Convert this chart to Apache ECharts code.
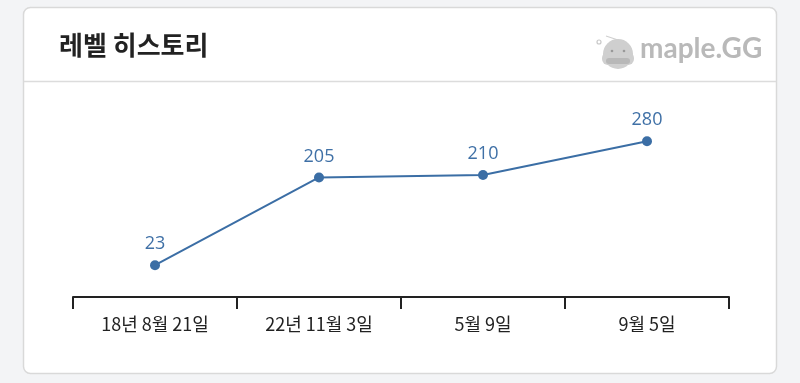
<!DOCTYPE html>
<html><head><meta charset="utf-8">
<script src="https://cdn.jsdelivr.net/npm/echarts@6/dist/echarts.min.js"></script>
<style>html,body{margin:0;padding:0;background:#f3f4f6;}#c{width:800px;height:383px;}</style>
</head><body><div id="c"></div>
<script>
var categories = ['18년 8월 21일', '22년 11월 3일', '5월 9일', '9월 5일'];
var levels = [23, 205, 210, 280];
var titleText = '레벨 히스토리';
var logoText = 'maple.GG';

var chart = echarts.init(document.getElementById('c'));
var FONT = '"Noto Sans CJK KR", "Noto Sans", sans-serif';
chart.setOption({
  backgroundColor: '#f3f4f6',
  animation: false,
  title: {
    text: titleText, left: 54, top: 27,
    textStyle: { fontFamily: FONT, fontSize: 26, fontWeight: 'bold', color: '#222' }
  },
  graphic: [
    { type: 'rect', z: -10, shape: { x: 23.5, y: 7.5, width: 753, height: 366, r: 7 },
      style: { fill: '#fff', stroke: '#d9d9d9', lineWidth: 1.5 } },
    { type: 'line', z: -9, shape: { x1: 24, y1: 81.5, x2: 776, y2: 81.5 },
      style: { stroke: '#dcdcdc', lineWidth: 1.5 } },
    { type: 'circle', z: 1, shape: { cx: 618, cy: 54, r: 15 }, style: { fill: '#cfcfcf' } },
    { type: 'rect', z: 1, shape: { x: 602, y: 52, width: 32, height: 13, r: 6 }, style: { fill: '#cfcfcf' } },
    { type: 'rect', z: 2, shape: { x: 606, y: 58, width: 24, height: 6, r: 3 }, style: { fill: '#b8b8b8' } },
    { type: 'circle', z: 2, shape: { cx: 612, cy: 51, r: 1.3 }, style: { fill: '#999' } },
    { type: 'circle', z: 2, shape: { cx: 624, cy: 51, r: 1.3 }, style: { fill: '#999' } },
    { type: 'line', z: 1, shape: { x1: 618, y1: 40, x2: 606, y2: 36 }, style: { stroke: '#cfcfcf', lineWidth: 1.2 } },
    { type: 'circle', z: 1, shape: { cx: 599, cy: 42, r: 2 }, style: { fill: '#fff', stroke: '#c8c8c8', lineWidth: 1.2 } },
    { type: 'text', z: 2, left: 640, top: 35,
      style: { text: logoText, fontFamily: '"Lato", "DejaVu Sans", sans-serif', fontSize: 28, fontWeight: 'bold', fill: '#b9b9b9' } }
  ],
  grid: { left: 73, right: 71, top: 97, bottom: 86 },
  xAxis: {
    type: 'category', data: categories, boundaryGap: true,
    axisLine: { onZero: false, lineStyle: { color: '#222', width: 2 } },
    axisTick: { show: true, length: 12, lineStyle: { color: '#222', width: 2 } },
    axisLabel: { color: '#222', fontFamily: FONT, fontSize: 18, margin: 18 },
    splitLine: { show: false }
  },
  yAxis: {
    type: 'value', min: -43, max: 372, show: false,
    splitLine: { show: false }
  },
  series: [{
    type: 'line', data: levels,
    symbol: 'circle', symbolSize: 10,
    lineStyle: { color: '#3b6ea5', width: 2 },
    itemStyle: { color: '#3b6ea5' },
    label: { show: true, position: 'top', distance: 7, color: '#3f70a6', fontFamily: '"Open Sans", "Noto Sans", sans-serif', fontSize: 18 }
  }]
});
</script></body></html>
